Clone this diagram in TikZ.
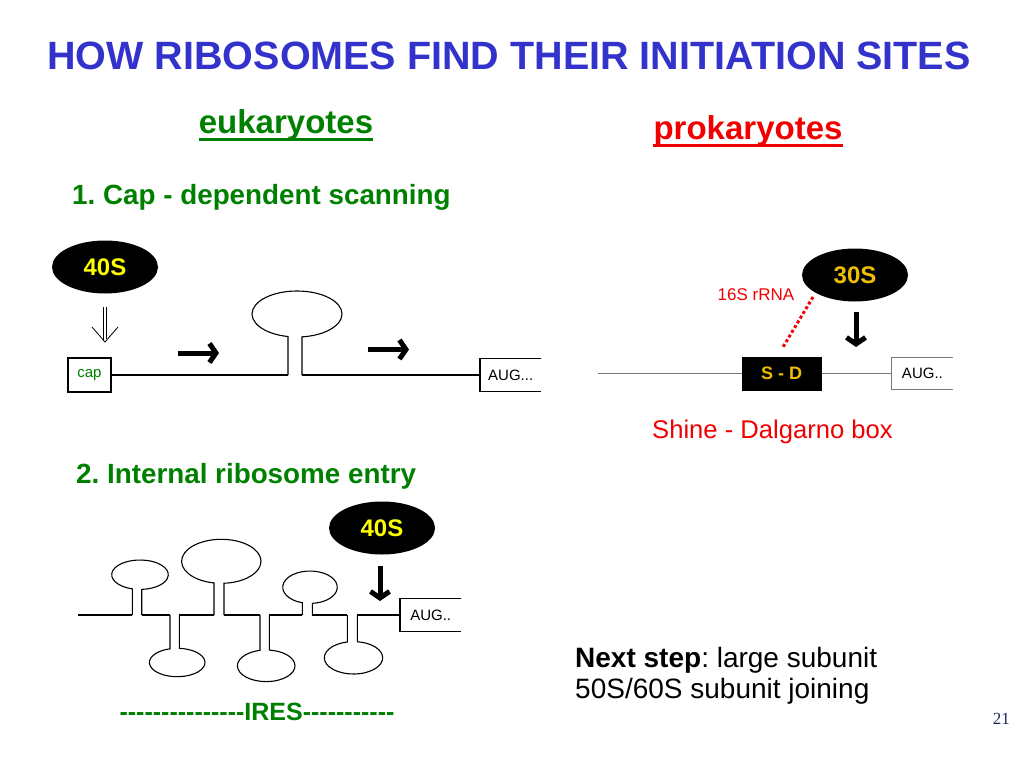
\documentclass[tikz,border=0pt]{standalone}
\usepackage{fontspec}
\setmainfont{Liberation Sans}
\newfontfamily\pagefont{Liberation Serif}
\usetikzlibrary{shapes.geometric,arrows.meta}
\definecolor{titleblue}{RGB}{51,51,204}
\definecolor{eugreen}{RGB}{0,128,0}
\definecolor{prored}{RGB}{240,0,0}
\definecolor{subyellow}{RGB}{255,255,0}
\definecolor{sdgold}{RGB}{240,190,0}
\definecolor{pagenum}{RGB}{30,40,90}
\definecolor{linegray}{RGB}{120,120,120}
\frenchspacing
\begin{document}
\begin{tikzpicture}
[x=1pt, y=-1pt,
  subunit/.style={shape=ellipse,fill=black,inner sep=0pt,minimum width=106pt,
    minimum height=53pt,font=\fontsize{24}{24}\selectfont\bfseries},
  openbox/.style={shape=rectangle,inner sep=0pt,minimum width=61pt,
    minimum height=32pt,anchor=west,font=\fontsize{15}{15}\selectfont},
  rnadecorate/.style={-,line width=1.1pt},
  bigarrow/.style={-{Straight Barb[length=6.5pt,width=19pt]},line width=5pt},
  heading/.style={inner sep=0pt,anchor=base,font=\fontsize{33}{33}\selectfont\bfseries},
  steptext/.style={inner sep=0pt,anchor=base west,text=eugreen,
    font=\fontsize{27.8}{28}\selectfont\bfseries},
  plaintext/.style={inner sep=0pt,anchor=base west,font=\fontsize{25.6}{26}\selectfont}]
\useasboundingbox (0,0) rectangle (1024,768);
%% headings
\node [inner sep=0pt,anchor=base,text=titleblue,font=\fontsize{39.5}{40}\selectfont\bfseries]
  (title) at (509,70) {HOW RIBOSOMES FIND THEIR INITIATION SITES};
\node [heading,text=eugreen] (euk) at (286,133) {eukaryotes};
\node [heading,text=prored] (prok) at (748,139) {prokaryotes};
\draw [eugreen,line width=3pt] ([yshift=-6pt]euk.base west) -- ([yshift=-6pt]euk.base east);
\draw [prored,line width=3pt] ([yshift=-6pt]prok.base west) -- ([yshift=-6pt]prok.base east);
\node [steptext] (capscan) at (72,204) {1. Cap - dependent scanning};
\node [steptext] (ires) at (76,483) {2. Internal ribosome entry};
%% subunits and boxes
\node [subunit,text=subyellow] (s40a) at (105,267) {40S};
\node [subunit,text=subyellow] (s40b) at (382,528) {40S};
\node [subunit,text=sdgold] (s30) at (855,275) {30S};
\node [draw,rnadecorate,inner sep=0pt,minimum width=43pt,minimum height=34pt,
  text=eugreen,font=\fontsize{15}{15}\selectfont] (cap) at (89.5,375) {cap};
\node [openbox] (aug1) at (480,375) {AUG...};
\node [openbox] (aug2) at (400,615) {AUG..};
\node [openbox] (aug3) at (891.7,373.5) {AUG..};
\foreach \boxname/\boxcolor in {aug1/black, aug2/black, aug3/linegray}
{
  \draw [rnadecorate,\boxcolor] (\boxname.north east) -- (\boxname.north west)
    -- (\boxname.south west) -- (\boxname.south east);
}
\node [fill=black,inner sep=0pt,minimum width=80pt,minimum height=34pt,text=sdgold,
  font=\fontsize{18}{18}\selectfont\bfseries] (sd) at (781.7,373.5) {S - D};
\node [text=prored,inner sep=0pt,font=\fontsize{17}{17}\selectfont] (rrna) at (756,295) {16S rRNA};
%% stem-loops
\foreach \xl/\xr/\cx/\cy/\rx/\ry/\dir/\yb in {288/302/297/314/45/23/1/375,
  132.3/141.7/140/574.7/28.3/14.7/1/615, 170/179.3/177.2/662.5/27.8/14.2/-1/615,
  214/224/221.3/561.3/39.7/22/1/615, 260/269.3/266.2/665.8/28.8/15.8/-1/615,
  302.3/312.3/310/587.2/27.3/16.2/1/615, 347.3/357.3/353.5/657.8/29.2/16.2/-1/615}
{
  \pgfmathsetmacro\al{acos((\xl-\cx)/\rx)}
  \pgfmathsetmacro\ar{acos((\xr-\cx)/\rx)}
  \pgfmathsetmacro\yj{\cy+\ry*sin(\dir*\al)}
  \draw [rnadecorate] (\xl,\yb) -- (\xl,\yj)
    arc [start angle=\dir*\al, end angle=\dir*(\ar+360), x radius=\rx, y radius=\ry]
    -- (\xr,\yb);
}
%% mRNA lines
\draw [rnadecorate] (cap.east) -- (288,375);
\draw [rnadecorate] (302,375) -- (aug1.west);
\foreach \xa/\xb in {78/132.3, 141.7/170, 179.3/214, 224/260, 269.3/302.3, 312.3/347.3}
{
  \draw [rnadecorate] (\xa,615) -- (\xb,615);
}
\draw [rnadecorate] (357.3,615) -- (aug2.west);
\coordinate (mrnastart) at (598,373.5);
\draw [rnadecorate,linegray] (mrnastart) -- (sd.west);
\draw [rnadecorate,linegray] (sd.east) -- (aug3.west);
%% arrows
\coordinate (dbltop) at (105,307);
\coordinate (dbltip) at (105,342);
\draw [line width=0.8pt] ([xshift=-1.7pt]dbltop) -- ([xshift=-1.7pt,yshift=1pt]dbltip);
\draw [line width=1.8pt] ([xshift=1.5pt]dbltop) -- ([xshift=1.5pt,yshift=3pt]dbltip);
\draw [line width=0.8pt] ([xshift=-13pt,yshift=15pt]dbltip) -- (dbltip)
  -- ([xshift=13pt,yshift=15pt]dbltip);
\foreach \startnode/\sx/\sy/\endnode/\ex/\ey in {ha/178/353/hb/219/353,
  hc/368/349.5/hd/409/349.5, va/856/312/vb/856/347, vc/380/566/vd/380/601}
{
  \coordinate (\startnode) at (\sx,\sy);
  \coordinate (\endnode) at (\ex,\ey);
  \draw [bigarrow] (\startnode) -- (\endnode);
}
\coordinate (dota) at (813,297);
\coordinate (dotb) at (783,347);
\draw [prored,line width=3pt,dash pattern=on 3pt off 2.5pt] (dota) -- (dotb);
%% bottom texts
\node [plaintext,text=prored] (shine) at (652,438) {Shine - Dalgarno box};
\node [inner sep=0pt,anchor=base,text=eugreen,font=\fontsize{25}{25}\selectfont\bfseries]
  (iresbar) at (257,720)
  {\foreach \k in {1,...,15}{\mbox{-}}IRES\foreach \k in {1,...,11}{\mbox{-}}};
\node [plaintext,font=\fontsize{28}{28}\selectfont] (nexta) at (575,667)
  {\textbf{Next step}: large subunit};
\node [plaintext,font=\fontsize{28}{28}\selectfont] (nextb) at (575,698)
  {50S/60S subunit joining};
\node [inner sep=0pt,anchor=base east,text=pagenum,font=\pagefont\fontsize{17}{17}\selectfont]
  (page) at (1010,724) {21};
\end{tikzpicture}
\end{document}
